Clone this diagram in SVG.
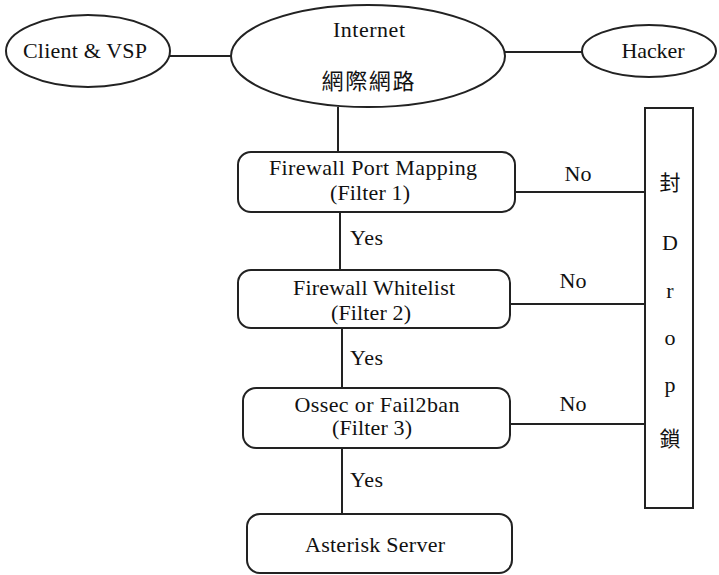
<svg xmlns="http://www.w3.org/2000/svg" width="719" height="575" viewBox="0 0 719 575">
<style>
.s{fill:#fff;stroke:#222;stroke-width:2}
.c{stroke:#222;stroke-width:2;fill:none}
</style>
<rect width="719" height="575" fill="#fff"/>
<g font-family="Liberation Serif, Noto Sans CJK TC, serif" font-size="22" fill="#111" text-anchor="middle">
<g id="connectors">
<line class="c" x1="170" y1="56" x2="232" y2="56"/>
<line class="c" x1="505" y1="52" x2="582" y2="52"/>
<line class="c" x1="338" y1="107" x2="338" y2="152"/>
<line class="c" x1="340" y1="212" x2="340" y2="270"/>
<line class="c" x1="342" y1="328" x2="342" y2="388"/>
<line class="c" x1="342" y1="448" x2="342" y2="514"/>
<line class="c" x1="515" y1="192" x2="645" y2="192"/>
<line class="c" x1="510" y1="304" x2="645" y2="304"/>
<line class="c" x1="510" y1="424" x2="645" y2="424"/>
<text text-anchor="start" x="350" y="245" textLength="33">Yes</text>
<text text-anchor="start" x="350" y="365" textLength="33">Yes</text>
<text text-anchor="start" x="350" y="487" textLength="33">Yes</text>
<text x="578" y="181" textLength="27">No</text>
<text x="573" y="288" textLength="27">No</text>
<text x="573" y="411" textLength="27">No</text>
</g>
<g id="client">
<ellipse class="s" cx="88" cy="51" rx="82" ry="36"/>
<text x="85" y="58" textLength="124">Client &amp; VSP</text>
</g>
<g id="internet">
<ellipse class="s" cx="368" cy="56" rx="137" ry="51"/>
<text x="369" y="37" textLength="72">Internet</text>
<text font-family="Noto Sans CJK TC, sans-serif" font-size="22" x="368" y="89" textLength="93">網際網路</text>
</g>
<g id="hacker">
<ellipse class="s" cx="649" cy="51" rx="67" ry="26"/>
<text x="653" y="58" textLength="63">Hacker</text>
</g>
<g id="filter1">
<rect class="s" x="238" y="152" width="277" height="60" rx="13"/>
<text x="373" y="175" textLength="208">Firewall Port Mapping</text>
<text x="370" y="200" textLength="80">(Filter 1)</text>
</g>
<g id="filter2">
<rect class="s" x="238" y="270" width="272" height="58" rx="13"/>
<text x="374" y="295" textLength="162">Firewall Whitelist</text>
<text x="371" y="320" textLength="80">(Filter 2)</text>
</g>
<g id="filter3">
<rect class="s" x="243" y="388" width="267" height="60" rx="13"/>
<text x="377" y="412" textLength="165">Ossec or Fail2ban</text>
<text x="372" y="435" textLength="80">(Filter 3)</text>
</g>
<g id="asterisk">
<rect class="s" x="247" y="514" width="265" height="59" rx="13"/>
<text x="375" y="552" textLength="140">Asterisk Server</text>
</g>
<g id="drop">
<rect class="s" x="645" y="108" width="48" height="400"/>
<text font-family="Noto Sans CJK TC, sans-serif" font-size="21" x="670" y="190">封</text>
<text x="670" y="250">D</text>
<text x="670" y="298">r</text>
<text x="670" y="345">o</text>
<text x="670" y="392">p</text>
<text font-family="Noto Sans CJK TC, sans-serif" font-size="21" x="670" y="446">鎖</text>
</g>
</g>
</svg>
